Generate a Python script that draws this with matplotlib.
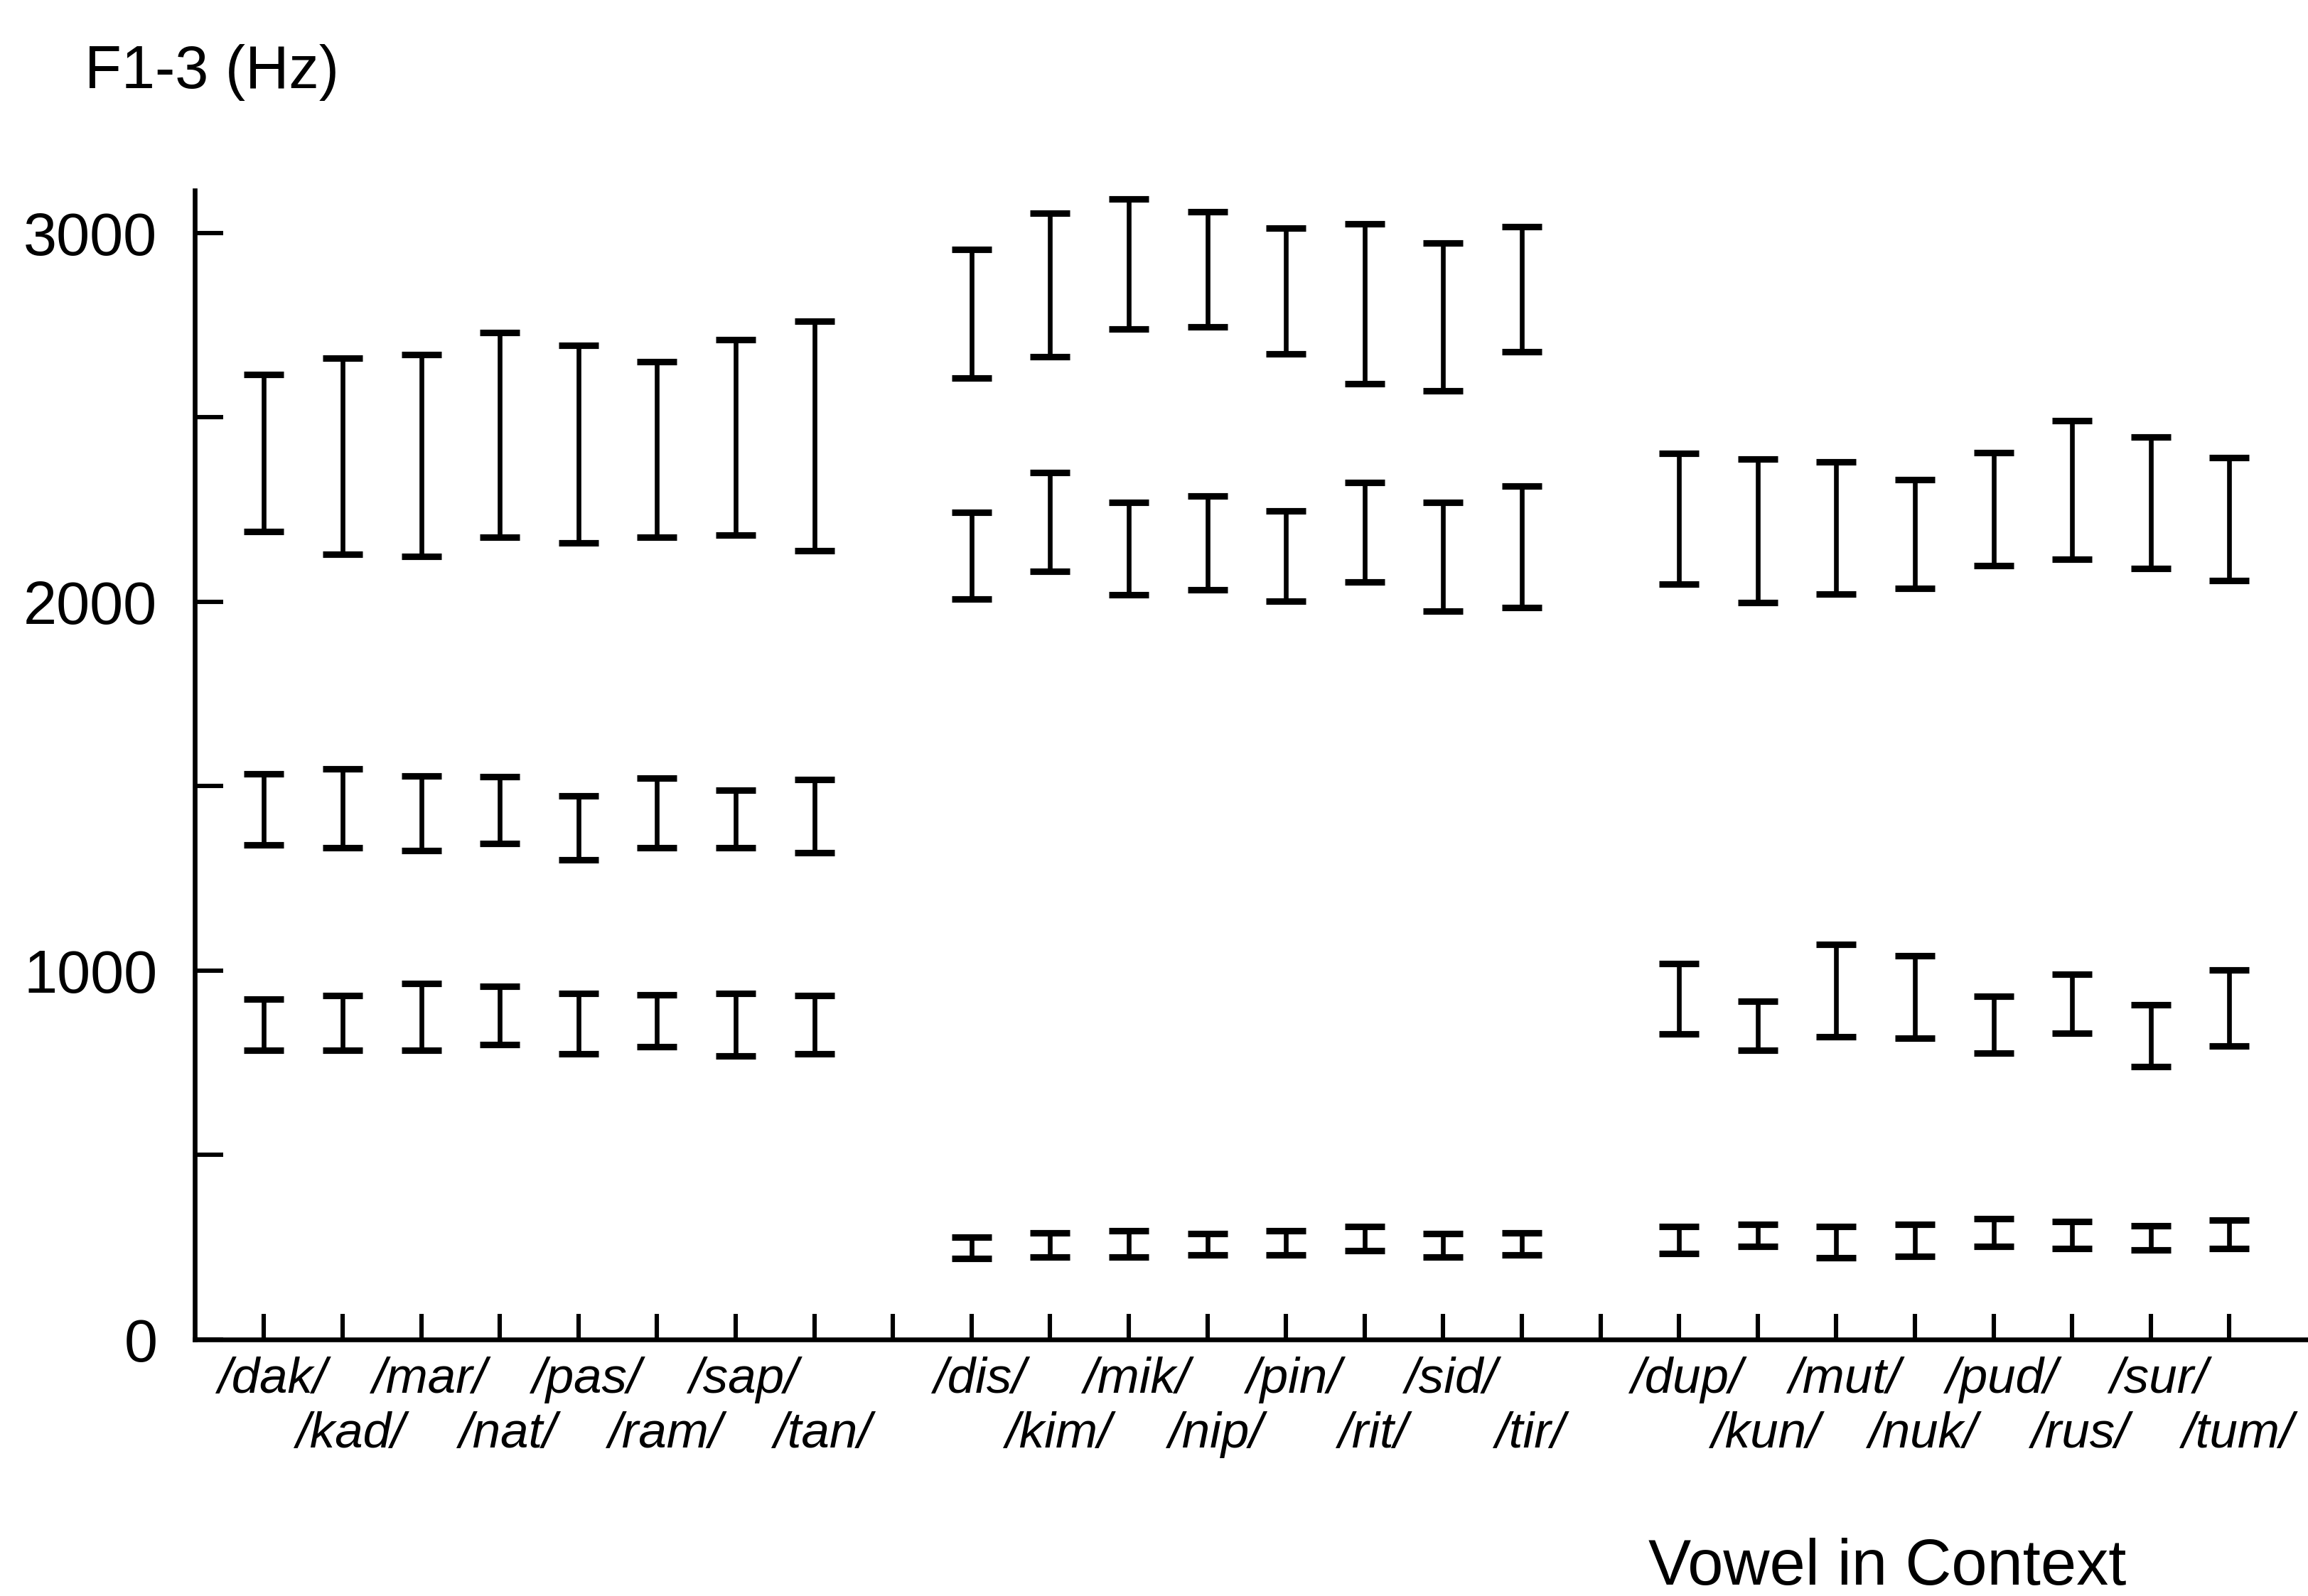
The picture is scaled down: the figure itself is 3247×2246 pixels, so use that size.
import numpy as np
import matplotlib
matplotlib.use("Agg")
import matplotlib.pyplot as plt

plt.rcParams["font.family"] = ["Liberation Sans", "DejaVu Sans"]

# words in the order they appear along the x axis (three vowel groups)
words_a = ["/dak/", "/kad/", "/mar/", "/nat/", "/pas/", "/ram/", "/sap/", "/tan/"]
words_i = ["/dis/", "/kim/", "/mik/", "/nip/", "/pin/", "/rit/", "/sid/", "/tir/"]
words_u = ["/dup/", "/kun/", "/mut/", "/nuk/", "/pud/", "/rus/", "/sur/", "/tum/"]

# formant ranges (Hz), low and high end of each bar
f3_low_a = [2190, 2128, 2122, 2175, 2159, 2175, 2181, 2138]
f3_high_a = [2616, 2661, 2670, 2729, 2695, 2651, 2711, 2760]
f2_low_a = [1341, 1334, 1325, 1344, 1300, 1334, 1334, 1319]
f2_high_a = [1534, 1547, 1528, 1526, 1473, 1522, 1489, 1518]
f1_low_a = [784, 784, 784, 799, 774, 793, 768, 774]
f1_high_a = [923, 933, 966, 957, 939, 935, 939, 933]

f3_low_i = [2606, 2665, 2739, 2745, 2671, 2591, 2572, 2677]
f3_high_i = [2955, 3053, 3092, 3058, 3013, 3024, 2973, 3017]
f2_low_i = [2008, 2083, 2018, 2033, 2002, 2053, 1975, 1985]
f2_high_i = [2243, 2350, 2269, 2286, 2247, 2324, 2269, 2314]
f1_low_i = [220, 223, 223, 230, 230, 240, 223, 230]
f1_high_i = [278, 290, 294, 287, 295, 307, 287, 290]

f3_low_u = [2047, 1998, 2020, 2037, 2098, 2116, 2090, 2058]
f3_high_u = [2402, 2387, 2380, 2330, 2405, 2490, 2447, 2390]
f2_low_u = [828, 784, 820, 817, 776, 830, 739, 796]
f2_high_u = [1019, 917, 1071, 1040, 931, 990, 907, 1001]
f1_low_u = [233, 252, 222, 225, 252, 246, 243, 246]
f1_high_u = [306, 312, 306, 312, 327, 320, 309, 323]

groups = [
    (words_a, [(f1_low_a, f1_high_a), (f2_low_a, f2_high_a), (f3_low_a, f3_high_a)]),
    (words_i, [(f1_low_i, f1_high_i), (f2_low_i, f2_high_i), (f3_low_i, f3_high_i)]),
    (words_u, [(f1_low_u, f1_high_u), (f2_low_u, f2_high_u), (f3_low_u, f3_high_u)]),
]

fig = plt.figure(figsize=(3247 / 200, 2246 / 200), dpi=200)
ax = fig.add_axes([0.0844, 0.1607, 0.9156, 0.72])

for g, (words, formants) in enumerate(groups):
    # one empty slot between the groups
    pos = np.arange(len(words)) + 1 + g * 9
    for low, high in formants:
        low = np.array(low)
        high = np.array(high)
        ax.errorbar(pos, (low + high) / 2, yerr=(high - low) / 2, fmt="none",
                    ecolor="black", elinewidth=2.4, capsize=10, capthick=3.3)
    # labels in two staggered rows
    for i, (p, w) in enumerate(zip(pos, words)):
        off = -27 if i % 2 == 0 else -54.7
        ax.annotate(w, xy=(p, 0), xycoords=("data", "axes fraction"),
                    xytext=(4, off), textcoords="offset points",
                    ha="center", va="baseline", fontsize=25.5, style="italic")

ax.set_xlim(0.12, 27.0)
ax.set_ylim(0, 3115)

ax.set_xticks(np.arange(1, 27))
ax.set_xticklabels([])
ax.set_yticks(np.arange(0, 3001, 500))
ax.set_yticklabels(["0", "", "1000", "", "2000", "", "3000"])

ax.tick_params(axis="x", direction="in", length=13, width=2.2)
ax.tick_params(axis="y", direction="in", length=14.5, width=2.2, pad=19, labelsize=30.5)

ax.spines["top"].set_visible(False)
ax.spines["right"].set_visible(False)
ax.spines["left"].set_linewidth(2.4)
ax.spines["bottom"].set_linewidth(2.4)

fig.text(0.0366, 0.9447, "F1-3 (Hz)", fontsize=30.5, va="baseline", ha="left")
fig.text(0.7142, 0.007, "Vowel in Context", fontsize=32.5, va="baseline", ha="left")

fig.savefig("out.png", dpi=200, facecolor="white")
